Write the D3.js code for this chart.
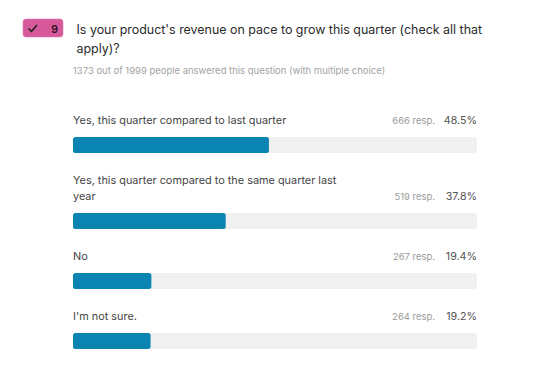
<!DOCTYPE html>
<html>
<head>
<meta charset="utf-8">
<script src="https://cdn.jsdelivr.net/npm/d3@7"></script>
<style>
  html, body { margin: 0; padding: 0; background: #fff; }
  text { font-family: Inter, "Noto Sans", sans-serif; }
</style>
</head>
<body>
<div id="chart"></div>
<script>
// Data
const labels = [
  ["Yes, this quarter compared to last quarter"],
  ["Yes, this quarter compared to the same quarter last", "year"],
  ["No"],
  ["I'm not sure."]
];
const responses = [666, 519, 267, 264];
const percents = [48.5, 37.8, 19.4, 19.2];
const titleLines = [
  "Is your product's revenue on pace to grow this quarter (check all that",
  "apply)?"
];
const subtitle = "1373 out of 1999 people answered this question (with multiple choice)";
const badgeNumber = "9";

const W = 550, H = 391;
const svg = d3.select("#chart").append("svg")
  .attr("width", W).attr("height", H)
  .attr("viewBox", `0 0 ${W} ${H}`)
  .style("display", "block");

// 1. Badge
const badge = svg.append("g");
badge.append("rect")
  .attr("x", 23).attr("y", 19).attr("width", 40).attr("height", 18)
  .attr("rx", 3)
  .attr("fill", "#d65a9b").attr("stroke", "#e27ab3").attr("stroke-width", 0.6);
badge.append("path")
  .attr("d", "M28.5 28.5 L31.5 31.5 L37 25")
  .attr("fill", "none").attr("stroke", "#1a1a1a").attr("stroke-width", 1.5);
badge.append("text")
  .attr("x", 54.5).attr("y", 32.5)
  .attr("text-anchor", "middle")
  .attr("font-size", 10.5).attr("font-weight", 600)
  .attr("fill", "#2a1020")
  .text(badgeNumber);

// 2. Title and subtitle
svg.append("g").selectAll("text")
  .data(titleLines)
  .enter().append("text")
  .attr("x", 76.5)
  .attr("y", (d, i) => 33.5 + i * 19)
  .attr("font-size", 12.45)
  .attr("fill", "#2b2b2b")
  .text(d => d);

svg.append("text")
  .attr("x", 73).attr("y", 74)
  .attr("font-size", 9.48)
  .attr("fill", "#a3a3a3")
  .text(subtitle);

// 3. Rows
const x = d3.scaleLinear().domain([0, 100]).range([73, 477]);
const barH = 16;

// one-line rows take 60px, each extra label line adds 16px
const rows = [];
let rowTop = 137;
labels.forEach((lines, i) => {
  rowTop += i === 0 ? 0 : 44 + lines.length * 16;
  rows.push({ lines, resp: responses[i], pct: percents[i], barY: rowTop });
});

const row = svg.append("g").selectAll("g")
  .data(rows)
  .enter().append("g");

row.append("rect")
  .attr("x", x(0)).attr("y", d => d.barY)
  .attr("width", x(100) - x(0)).attr("height", barH)
  .attr("rx", 2.5)
  .attr("fill", "#f0f0f0");

row.append("rect")
  .attr("x", x(0)).attr("y", d => d.barY)
  .attr("width", d => x(d.pct) - x(0)).attr("height", barH)
  .attr("rx", 2.5)
  .attr("fill", "#0a85b1");

row.each(function(d) {
  const n = d.lines.length;
  d3.select(this).selectAll("text.lab")
    .data(d.lines)
    .enter().append("text")
    .attr("class", "lab")
    .attr("x", 73)
    .attr("y", (l, i) => d.barY - 13.5 - (n - 1 - i) * 16)
    .attr("font-size", 10.88)
    .attr("fill", "#444")
    .text(l => l);
});

row.append("text")
  .attr("x", 477).attr("y", d => d.barY - 13.5)
  .attr("text-anchor", "end")
  .attr("font-size", 10.7)
  .attr("fill", "#555")
  .text(d => d.pct.toFixed(1) + "%");

row.append("text")
  .attr("x", 435).attr("y", d => d.barY - 13.5)
  .attr("text-anchor", "end")
  .attr("font-size", 9.48)
  .attr("fill", "#9a9a9a")
  .text(d => d.resp + " resp.");
</script>
</body>
</html>
